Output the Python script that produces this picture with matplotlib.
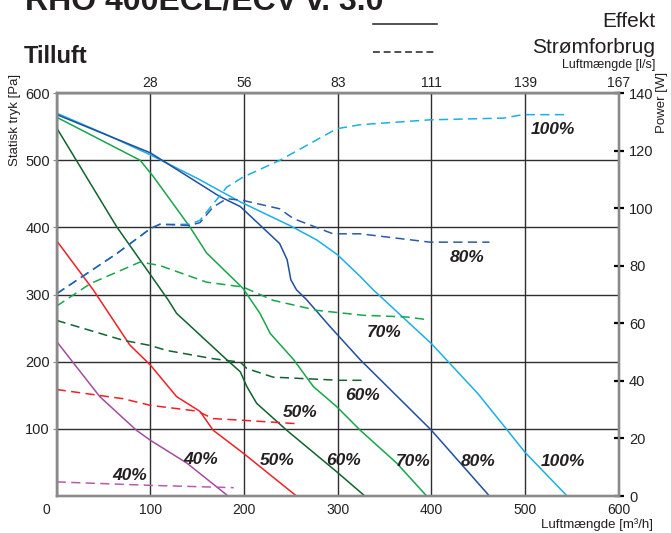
import matplotlib
matplotlib.use("Agg")
import matplotlib.pyplot as plt
from matplotlib.lines import Line2D
from matplotlib.transforms import ScaledTranslation

plt.rcParams["font.family"] = ["Liberation Sans", "DejaVu Sans"]

# static pressure [Pa] against airflow [m3/h]
p100_x = [0, 50, 100, 150, 196, 250, 278, 300, 324, 338, 400, 450, 480, 500, 545]
p100_y = [570, 540, 508, 473, 438, 402, 381, 359, 327, 307, 227, 152, 100, 65, 0]
p80_x = [0, 100, 174, 196, 238, 246, 250, 256, 267, 292, 324, 400, 462]
p80_y = [568, 511, 446, 431, 376, 352, 322, 307, 292, 252, 203, 98, 0]
p70_x = [0, 89, 103, 142, 160, 199, 217, 228, 253, 274, 299, 324, 363, 395]
p70_y = [564, 500, 476, 401, 362, 309, 272, 242, 203, 163, 133, 98, 49, 0]
p60_x = [0, 64, 119, 128, 181.5, 196, 203, 213.5, 245.5, 299, 329]
p60_y = [548, 401, 292, 272, 203, 185, 163, 138, 98, 36, 0]
p50_x = [0, 39, 78, 100, 128, 153, 167, 199, 256]
p50_y = [380, 307, 225, 195, 148, 126, 98, 64, 0]
p40_x = [0, 46, 85, 100, 139, 183]
p40_y = [230, 148, 98, 83, 49, 0]

# power consumption [W] against airflow [m3/h]
w100_x = [0, 64, 100, 110, 142, 153, 181.5, 199, 238, 299, 324, 398.5, 477, 498, 545]
w100_y = [70.3, 84.2, 92.9, 94.4, 94.4, 95.8, 107.3, 110.8, 116.6, 127.6, 129, 130.7, 131.3, 132.5, 132.5]
w80_x = [0, 64, 100, 110, 142, 153, 167, 181.5, 199, 238, 252.6, 295, 324, 398.5, 462]
w80_y = [70.3, 84.2, 92.9, 94.4, 94.0, 95.0, 100.4, 103.3, 102.7, 99.8, 96.4, 91.1, 91.1, 88.2, 88.2]
w70_x = [0, 36, 89, 110, 160, 199, 231, 278, 327, 374, 395]
w70_y = [66, 73.8, 81.3, 80.1, 74.3, 72.6, 68, 64.5, 62.8, 62.2, 61.3]
w60_x = [0, 71, 100, 117, 167, 196, 203, 231, 302, 329]
w60_y = [61, 54.1, 52.3, 50.6, 47.7, 46.5, 44.3, 41.3, 40.2, 40.2]
w50_x = [0, 71, 100, 150, 167, 199, 258]
w50_y = [37, 33.8, 31.5, 29.5, 26.9, 26.3, 25.1]
w40_x = [0, 100, 189]
w40_y = [4.9, 3.7, 2.9]

x_ticks = [100, 200, 300, 400, 500, 600]
ls_labels = ["28", "56", "83", "111", "139", "167"]
pa_ticks = [100, 200, 300, 400, 500, 600]
w_ticks = [0, 20, 40, 60, 80, 100, 120, 140]

# label text and position (x m3/h, y Pa)
labels = ["100%", "80%", "70%", "60%", "50%", "40%", "40%",
          "50%", "60%", "70%", "80%", "100%"]
label_x = [530, 438, 350, 327, 260, 154, 78, 235, 306, 381, 450, 540]
label_y = [545, 355, 244, 150, 124, 55, 31, 53, 53, 52, 52, 52]

C100 = "#1aafe6"
C80 = "#1f4f9f"
C70 = "#17a64a"
C60 = "#0f6330"
C50 = "#ee2226"
C40 = "#a34c9e"
SPINE = "#8a8a8a"
GRID = "#2e2e2e"
DASH = (0, (6, 3.5))

fig = plt.figure(figsize=(6.71, 5.33), dpi=100)
ax = fig.add_axes([0.0845, 0.0694, 0.8375, 0.756])
ax.set_xlim(0, 600)
ax.set_ylim(0, 600)
ax.set_yticks(pa_ticks)
ax.set_xticks([0] + x_ticks)
ax.grid(True, color=GRID, lw=1.0)
ax.set_axisbelow(True)
ax.tick_params(axis="x", length=0, labelsize=10, pad=5, colors="#222222")
ax.tick_params(axis="y", length=3, color=SPINE, labelsize=10.5, pad=2, labelcolor="#222222")
ax.get_xticklabels()[0].set_transform(
    ax.get_xticklabels()[0].get_transform() + ScaledTranslation(-10 / 100, 0, fig.dpi_scale_trans))

lw = 1.1
ax.plot(p40_x, p40_y, color=C40, lw=lw)
ax.plot(p50_x, p50_y, color=C50, lw=lw)
ax.plot(p60_x, p60_y, color=C60, lw=lw)
ax.plot(p70_x, p70_y, color=C70, lw=lw)
ax.plot(p100_x, p100_y, color=C100, lw=lw)
ax.plot(p80_x, p80_y, color=C80, lw=lw)

for t, x, y in zip(labels, label_x, label_y):
    ax.text(x, y, t, fontsize=12.5, fontweight="bold", fontstyle="italic",
            color="#231f20", ha="center", va="center")

ax2 = ax.twinx()
ax2.set_ylim(0, 140)
ax2.set_yticks(w_ticks)
ax2.tick_params(axis="y", direction="inout", length=7, width=1.6, color="black",
                labelsize=10.5, pad=4, labelcolor="#222222")
ax2.plot(w40_x, w40_y, color="#b85aae", lw=lw, ls=DASH)
ax2.plot(w50_x, w50_y, color=C50, lw=lw, ls=DASH)
ax2.plot(w60_x, w60_y, color=C60, lw=lw, ls=DASH)
ax2.plot(w70_x, w70_y, color=C70, lw=lw, ls=DASH)
ax2.plot(w100_x, w100_y, color=C100, lw=lw, ls=DASH)
ax2.plot(w80_x, w80_y, color="#2a5aa8", lw=lw, ls=DASH)

ax3 = ax.twiny()
ax3.set_xlim(0, 600)
ax3.set_xticks(x_ticks)
ax3.set_xticklabels(ls_labels)
ax3.tick_params(axis="x", length=0, labelsize=10, pad=2, labelcolor="#222222")

for a in (ax, ax2, ax3):
    for s in a.spines.values():
        s.set_color(SPINE)
        s.set_linewidth(1.6)

# header texts (the title is cut by the top edge, as in the source)
fig.text(0.038, 1 - 10 / 533, "RHO 400ECL/ECV v. 3.0", fontsize=23, fontweight="bold",
         color="#231f20", va="baseline")
fig.text(0.036, 1 - 62.7 / 533, "Tilluft", fontsize=17, fontweight="bold",
         color="#231f20", va="baseline")
fig.text(655 / 671, 1 - 26.7 / 533, "Effekt", fontsize=15, color="#231f20",
         ha="right", va="baseline")
fig.text(655 / 671, 1 - 53.3 / 533, "Strømforbrug", fontsize=15, color="#231f20",
         ha="right", va="baseline")
fig.text(655 / 671, 1 - 68.3 / 533, "Luftmængde [l/s]", fontsize=9, color="#231f20",
         ha="right", va="baseline")
fig.text(653 / 671, 1 - 525 / 533, "Luftmængde [m³/h]", fontsize=9.5, color="#231f20",
         ha="right", va="center")
fig.text(15 / 671, 1 - 120 / 533, "Statisk tryk [Pa]", fontsize=9.5, color="#231f20",
         rotation=90, ha="center", va="center")
fig.text(662 / 671, 1 - 102 / 533, "Power [W]", fontsize=9.5, color="#231f20",
         rotation=90, ha="center", va="center")

# legend samples for solid / dashed
fig.add_artist(Line2D([373 / 671, 437 / 671], [1 - 24 / 533, 1 - 24 / 533],
                      color="#231f20", lw=1.1))
fig.add_artist(Line2D([373 / 671, 437 / 671], [1 - 51.7 / 533, 1 - 51.7 / 533],
                      color="#231f20", lw=1.1, ls=(0, (4.5, 2.5))))

fig.savefig("out.png", dpi=100)
